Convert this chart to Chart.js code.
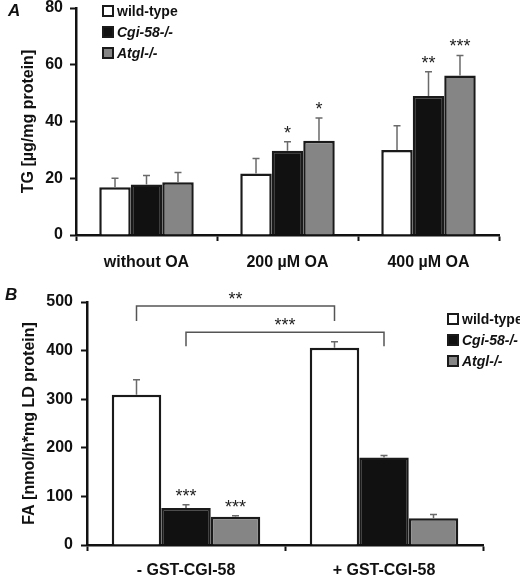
<!DOCTYPE html>
<html>
<head>
<meta charset="utf-8">
<script src="https://cdn.jsdelivr.net/npm/chart.js@4.4.0/dist/chart.umd.min.js"></script>
<style>
  body { margin: 0; background: #fff; }
  #wrap { position: relative; width: 520px; height: 576px; }
  canvas { position: absolute; left: 0; }
  #canvasA { top: 0; }
  #canvasB { top: 285px; }
</style>
</head>
<body>
<div id="wrap">
  <canvas id="canvasA" width="520" height="285"></canvas>
  <canvas id="canvasB" width="520" height="291"></canvas>
</div>
<script>
// series shared by both panels
var seriesNames = ['wild-type', 'Cgi-58-/-', 'Atgl-/-'];

// panel A: TG content
var groupsA = ['without OA', '200 µM OA', '400 µM OA'];
var tgWild = [16.8, 21.7, 30.0];
var tgCgi = [17.8, 29.7, 49.0];
var tgAtgl = [18.6, 33.2, 56.2];
var tgWildErr = [3.2, 5.3, 8.5];
var tgCgiErr = [3.2, 3.2, 8.5];
var tgAtglErr = [3.4, 8.0, 7.1];
var tgWildSig = ['', '', ''];
var tgCgiSig = ['', '*', '**'];
var tgAtglSig = ['', '*', '***'];
var ticksA = [0, 20, 40, 60, 80];

// panel B: FA release
var groupsB = ['- GST-CGI-58', '+ GST-CGI-58'];
var faWild = [309, 406];
var faCgi = [76, 180];
var faAtgl = [58, 55];
var faWildErr = [31, 12];
var faCgiErr = [7, 4];
var faAtglErr = [2, 8];
var faWildSig = ['', ''];
var faCgiSig = ['***', ''];
var faAtglSig = ['***', ''];
var ticksB = [0, 100, 200, 300, 400, 500];
var bracketSig = ['**', '***'];   // wild-type -/+ and Cgi-58-/- -/+

var fills = ['#ffffff', '#111111', '#858585'];
var FONT = '"Liberation Sans", Arial, sans-serif';

var decor = {
  id: 'decor',
  afterDatasetsDraw: function(chart, args, opts) {
    var ctx = chart.ctx, y = chart.scales.y;
    ctx.save();
    chart.data.datasets.forEach(function(ds, i) {
      var meta = chart.getDatasetMeta(i);
      meta.data.forEach(function(bar, j) {
        var top = y.getPixelForValue(ds.data[j] + ds.err[j]);
        ctx.strokeStyle = '#6a6a6a';
        ctx.lineWidth = 1.5;
        ctx.beginPath();
        ctx.moveTo(bar.x, bar.y);
        ctx.lineTo(bar.x, top);
        ctx.moveTo(bar.x - 3.5, top);
        ctx.lineTo(bar.x + 3.5, top);
        ctx.stroke();
        if (ds.sig[j]) {
          ctx.fillStyle = '#222';
          ctx.font = '18px ' + FONT;
          ctx.textAlign = 'center';
          ctx.textBaseline = 'alphabetic';
          ctx.fillText(ds.sig[j], bar.x, top - 3);
        }
      });
    });
    (opts.brackets || []).forEach(function(b) {
      var meta = chart.getDatasetMeta(b.ds);
      var x1 = meta.data[0].x, x2 = meta.data[1].x;
      var yt = y.getPixelForValue(b.top), yl = y.getPixelForValue(b.leg);
      ctx.strokeStyle = '#555';
      ctx.lineWidth = 1.5;
      ctx.beginPath();
      ctx.moveTo(x1, yl); ctx.lineTo(x1, yt); ctx.lineTo(x2, yt); ctx.lineTo(x2, yl);
      ctx.stroke();
      ctx.fillStyle = '#222';
      ctx.font = '18px ' + FONT;
      ctx.textAlign = 'center';
      ctx.textBaseline = 'alphabetic';
      ctx.fillText(b.label, (x1 + x2) / 2, yt - 1);
    });
    ctx.restore();
  },
  afterDraw: function(chart, args, opts) {
    var ctx = chart.ctx;
    ctx.save();
    ctx.fillStyle = '#111';
    ctx.font = 'italic bold 17px ' + FONT;
    ctx.textAlign = 'left';
    ctx.textBaseline = 'middle';
    ctx.fillText(opts.letter.text, opts.letter.x, opts.letter.y);
    var lg = opts.legend;
    chart.data.datasets.forEach(function(ds, i) {
      var cy = lg.y + i * lg.gap;
      ctx.fillStyle = ds.backgroundColor;
      ctx.fillRect(lg.x, cy - 6, 12, 12);
      ctx.strokeStyle = '#1a1a1a';
      ctx.lineWidth = 2;
      ctx.strokeRect(lg.x + 1, cy - 5, 10, 10);
      ctx.fillStyle = '#111';
      ctx.font = (i == 0 ? 'bold ' : 'italic bold ') + '14px ' + FONT;
      ctx.fillText(ds.label, lg.x + 15, cy + 1);
    });
    ctx.restore();
  }
};

function makeSets(vals, errs, sigs) {
  return vals.map(function(v, i) {
    return {
      label: seriesNames[i],
      data: v,
      err: errs[i],
      sig: sigs[i],
      backgroundColor: fills[i],
      borderColor: '#1a1a1a',
      borderWidth: 2.5,
      borderSkipped: 'start'
    };
  });
}

function makeChart(id, labels, sets, yTicks, box, extra) {
  var canvas = document.getElementById(id);
  return new Chart(canvas, {
    type: 'bar',
    data: { labels: labels, datasets: sets },
    options: {
      responsive: false,
      animation: false,
      devicePixelRatio: 1,
      categoryPercentage: box.cat,
      barPercentage: 1,
      layout: { padding: { left: 0, top: box.top, right: canvas.width - box.right, bottom: 0 } },
      plugins: {
        legend: { display: false },
        tooltip: { enabled: false },
        decor: extra
      },
      scales: {
        x: {
          grid: { offset: true, drawOnChartArea: false, drawTicks: true, tickLength: 6, tickWidth: 2, tickColor: '#111' },
          border: { display: true, color: '#111', width: 2.5 },
          ticks: { color: '#111', font: { family: FONT, size: 16, weight: 'bold' }, padding: box.xpad, maxRotation: 0 },
          afterFit: function(s) { s.height = canvas.height - box.bottom; s.paddingLeft = 0; s.paddingRight = 0; }
        },
        y: {
          min: yTicks[0],
          max: yTicks[yTicks.length - 1],
          afterBuildTicks: function(s) { s.ticks = yTicks.map(function(v) { return { value: v }; }); },
          grid: { drawOnChartArea: false, drawTicks: true, tickLength: 6, tickWidth: 2, tickColor: '#111' },
          border: { display: true, color: '#111', width: 2.5 },
          ticks: { color: '#111', font: { family: FONT, size: 16, weight: 'bold' }, padding: box.ypad },
          title: { display: true, text: box.title, color: '#111', font: { family: FONT, size: 16, weight: 'bold' }, padding: { top: box.tpad, bottom: 0 } },
          afterFit: function(s) { s.width = box.left; s.paddingTop = 0; s.paddingBottom = 0; }
        }
      }
    },
    plugins: [decor]
  });
}

makeChart('canvasA', groupsA,
  makeSets([tgWild, tgCgi, tgAtgl], [tgWildErr, tgCgiErr, tgAtglErr], [tgWildSig, tgCgiSig, tgAtglSig]),
  ticksA,
  { left: 76, right: 499, top: 8, bottom: 235, cat: 0.67, xpad: 12, ypad: 7, tpad: 19, title: 'TG [µg/mg protein]' },
  { letter: { text: 'A', x: 8, y: 11 }, legend: { x: 102, y: 11, gap: 21 } });

makeChart('canvasB', groupsB,
  makeSets([faWild, faCgi, faAtgl], [faWildErr, faCgiErr, faAtglErr], [faWildSig, faCgiSig, faAtglSig]),
  ticksB,
  { left: 87, right: 483, top: 17, bottom: 260, cat: 0.75, xpad: 10, ypad: 8, tpad: 20, title: 'FA [nmol/h*mg LD protein]' },
  { letter: { text: 'B', x: 5, y: 10 }, legend: { x: 447, y: 34, gap: 21 },
    brackets: [
      { ds: 0, top: 492, leg: 461, label: bracketSig[0] },
      { ds: 1, top: 438, leg: 409, label: bracketSig[1] }
    ] });
</script>
</body>
</html>
